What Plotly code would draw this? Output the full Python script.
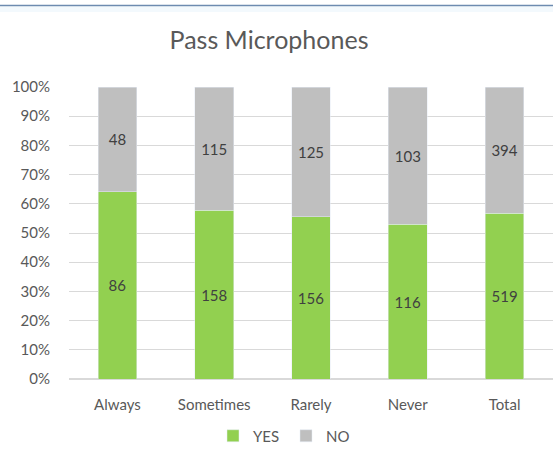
import plotly.graph_objects as go

categories = ["Always", "Sometimes", "Rarely", "Never", "Total"]
yes_values = [86, 158, 156, 116, 519]
no_values = [48, 115, 125, 103, 394]

W, H = 553, 475
L, R, T, B = 69, 0, 87, 96
ph = H - T - B
pw = W - L - R

FONT = "Lato, Calibri, Open Sans, sans-serif"
TXT = "#595959"

fig = go.Figure()
fig.add_trace(go.Bar(
    x=categories, y=yes_values, name="YES", marker_color="#92d050",
    text=yes_values, textposition="inside", insidetextanchor="middle",
    textfont=dict(color="#404040", size=15, family=FONT), width=0.4,
))
fig.add_trace(go.Bar(
    x=categories, y=no_values, name="NO", marker_color="#bfbfbf",
    text=no_values, textposition="inside", insidetextanchor="middle",
    textfont=dict(color="#404040", size=15, family=FONT), width=0.4,
))

fig.update_layout(
    width=W, height=H,
    margin=dict(l=L, r=R, t=T, b=B, autoexpand=False),
    barmode="stack", barnorm="percent",
    paper_bgcolor="white", plot_bgcolor="white",
    font=dict(family=FONT, color=TXT, size=15),
    title=dict(text="Pass Microphones", x=269 / W, xanchor="center",
               y=1 - 40 / H, yanchor="middle", font=dict(size=25, color=TXT)),
    showlegend=True,
    legend=dict(orientation="h", x=(286 - L) / pw, xanchor="center",
                y=(H - B - 436) / ph, yanchor="middle",
                font=dict(size=15, color=TXT), itemwidth=30, traceorder="normal",
                entrywidth=28, entrywidthmode="pixels"),
    uniformtext=dict(mode=False),
)
fig.update_yaxes(range=[0, 100], dtick=10, ticksuffix="%", showgrid=True,
                 gridcolor="#d9d9d9", gridwidth=1, zeroline=True, zerolinecolor="#d9d9d9",
                 ticklabelstandoff=18, tickfont=dict(size=15, color=TXT), fixedrange=True)
fig.update_xaxes(range=[-0.5, 4.5], showline=False, ticklabelstandoff=15,
                 tickfont=dict(size=15, color=TXT))

# top border of the chart frame
fig.add_shape(type="line", xref="paper", yref="paper",
              x0=-L / pw, x1=1, y0=1 + (T - 5.5) / ph, y1=1 + (T - 5.5) / ph,
              line=dict(color="#6d8bb0", width=1.5))
fig.add_shape(type="rect", xref="paper", yref="paper", layer="below",
              x0=-L / pw, x1=1, y0=1 + (T - 12) / ph, y1=1 + (T - 6.5) / ph,
              line=dict(width=0), fillcolor="#f3f9fd")

fig.write_html("out.html", config={"displayModeBar": False},
               post_script="document.body.style.margin='0';document.body.style.overflow='hidden';")
